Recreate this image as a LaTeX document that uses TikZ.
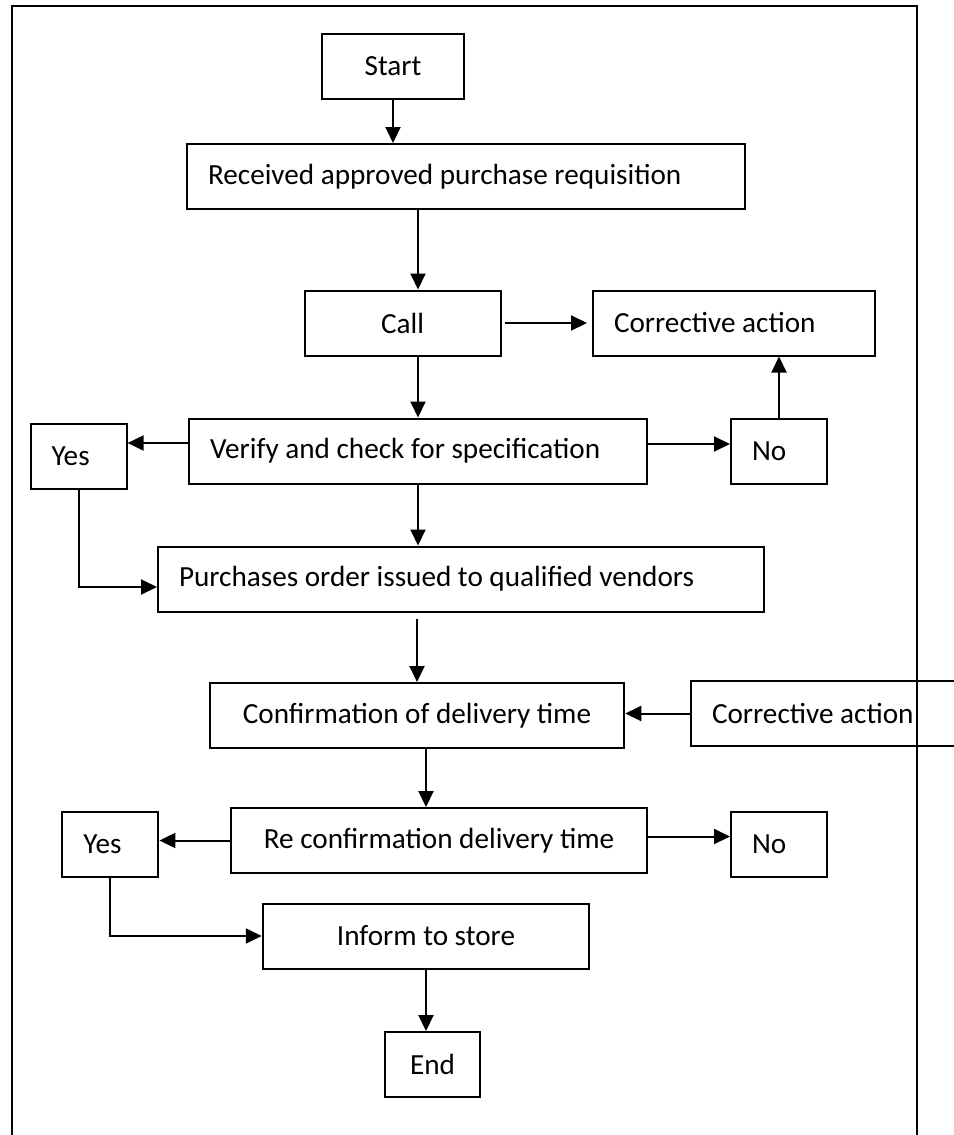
\documentclass[tikz,border=0pt]{standalone}
\usepackage{fontspec}
\setmainfont{Carlito}
\usetikzlibrary{arrows.meta}

\begin{document}
\begin{tikzpicture}[x=0.5pt, y=-0.5pt,
        box/.style={draw, line width=1pt, minimum height=32.5pt, inner sep=0pt, font=\fontsize{14.6}{17}\selectfont},
        lbox/.style={box, align=flush left, inner xsep=10.5pt, text width=#1},
        cbox/.style={box, align=center, minimum width=#1},
        arr/.style={line width=1pt, -{Triangle[width=7.5pt,length=8pt]}}]
        \useasboundingbox (0,0) rectangle (953,1135);
        \draw[line width=1pt] (12,6) rectangle (916.5,1150);
        \draw (393, 66.5) node[cbox=71.25pt](start) {Start};
        \draw (466, 176.5) node[lbox=258pt](recv) {Received approved purchase requisition};
        \draw (402.5, 323) node[cbox=98pt](call) {Call};
        \draw (734, 323) node[lbox=120pt](corr1) {Corrective action};
        \draw (418, 451) node[lbox=208pt](verify) {Verify and check for specification};
        \draw (78.6, 456.5) node[lbox=27pt](yes1) {Yes};
        \draw (779, 451) node[lbox=27pt](no1) {No};
        \draw (461, 579) node[lbox=282pt](order) {Purchases order issued to qualified vendors};
        \draw (417, 715.5) node[cbox=207.25pt](confirm) {Confirmation of delivery time};
        \draw (832, 713.5) node[lbox=120pt](corr2) {Corrective action};
        \draw (439, 840.5) node[cbox=208pt](reconf) {Re confirmation delivery time};
        \draw (110.4, 844.5) node[lbox=27pt](yes2) {Yes};
        \draw (779, 844.5) node[lbox=27pt](no2) {No};
        \draw (426, 936) node[cbox=163.25pt](inform) {Inform to store};
        \draw (432.5, 1064.5) node[cbox=47.5pt](stop) {End};
        \draw[arr] (start.south) -- (recv.north -| start.south);
        \draw[arr] (recv.south -| verify) -- (call.north -| verify);
        \draw[arr, shorten <=1.5pt, shorten >=2.5pt] (call.east) -- (corr1.west);
        \draw[arr] (call.south -| verify) -- (verify.north);
        \draw[arr] ([yshift=4pt]verify.west) -- ([yshift=4pt]verify.west -| yes1.east);
        \draw[arr] ([yshift=3.5pt]verify.east) -- ([yshift=3.5pt]verify.east -| no1.west);
        \draw[arr] (no1.north) -- (corr1.south -| no1.north);
        \draw[arr] (verify.south) -- (order.north -| verify.south);
        \draw[arr] (yes1.south) |- ([yshift=-4pt]order.west);
        \draw[arr] ([yshift=-3pt]order.south -| confirm) -- (confirm.north);
        \draw[arr] (corr2.west) -- (corr2.west -| confirm.east);
        \draw[arr] (confirm.south -| inform) -- (reconf.north -| inform);
        \draw[arr] (reconf.west) -- (reconf.west -| yes2.east);
        \draw[arr] ([yshift=2pt]reconf.east) -- ([yshift=2pt]reconf.east -| no2.west);
        \draw[arr] (yes2.south) |- (inform.west);
        \draw[arr] (inform.south) -- (stop.north -| inform.south);
    \end{tikzpicture}
\end{document}
